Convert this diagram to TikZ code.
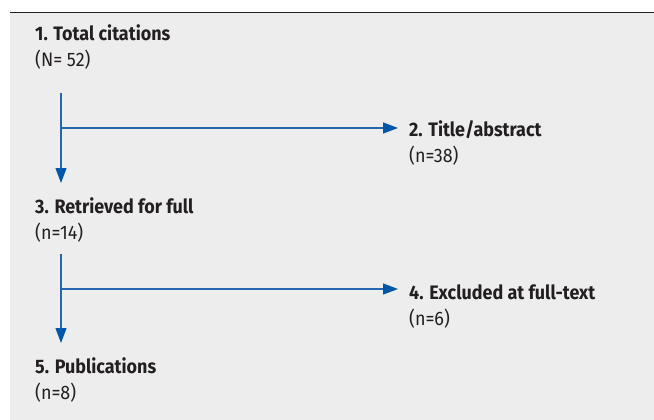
\documentclass[tikz,border=0pt]{standalone}
\usepackage{fontspec}
\setmainfont{Fira Sans}[FakeStretch=0.92]
\usetikzlibrary{arrows.meta}
\definecolor{bggray}{HTML}{EDEDED}
\definecolor{txt}{HTML}{231F20}
\definecolor{flow}{HTML}{2466B0}
\definecolor{tip}{HTML}{0057A8}
\tikzset{
  stepnode/.style={anchor=base west, inner sep=0pt, align=left, text=txt,
    font=\fontsize{19.5}{26}\selectfont},
  flowline/.style={draw=flow, line width=1.1pt,
    -{Triangle[length=15pt,width=11pt,color=tip]}},
}
\begin{document}
\begin{tikzpicture}[x=1pt,y=1pt]
\useasboundingbox (0,0) rectangle (654,-420);
\fill[bggray] (10,-12.5) rectangle (654,-420);
\draw[txt, line width=1.3pt] (10,-12.5) -- (654,-12.5);

\node[stepnode] (s1) at (35,-67) {\textbf{1. Total citations}\\(N= 52)};
\node[stepnode] (s2) at (409,-162) {\textbf{2. Title/abstract}\\(n=38)};
\node[stepnode] (s3) at (35,-239) {\textbf{3. Retrieved for full}\\(n=14)};
\node[stepnode] (s4) at (409,-325) {\textbf{4. Excluded at full-text}\\(n=6)};
\node[stepnode] (s5) at (35,-399) {\textbf{5. Publications}\\(n=8)};

\coordinate (v1top) at (61,-93);
\coordinate (v1tip) at (61,-183);
\coordinate (h1) at (61,-128);
\coordinate (h1tip) at (398,-128);
\coordinate (v2top) at (61,-254);
\coordinate (v2tip) at (61,-343);
\coordinate (h2) at (61,-289);
\coordinate (h2tip) at (398,-289);

\draw[flowline] (v1top) -- (v1tip);
\draw[flowline] (h1) -- (h1tip);
\draw[flowline] (v2top) -- (v2tip);
\draw[flowline] (h2) -- (h2tip);
\end{tikzpicture}
\end{document}
